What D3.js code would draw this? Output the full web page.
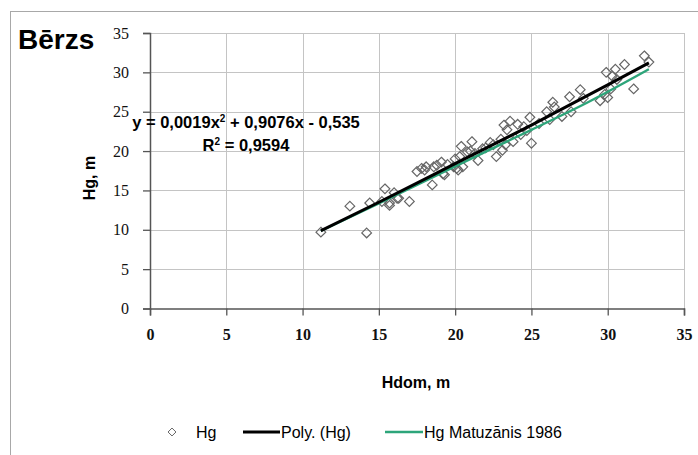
<!DOCTYPE html>
<html>
<head>
<meta charset="utf-8">
<script src="https://cdn.jsdelivr.net/npm/d3@7"></script>
<style>
  html, body { margin: 0; padding: 0; background: #fff; }
  svg { display: block; }
</style>
</head>
<body>
<svg id="chart" width="698" height="455"></svg>
<script>
// measured points (Hdom, Hg)
var hdom = [11.2, 13.1, 14.2, 14.4, 15.4, 15.2, 15.7, 16.0, 16.3, 17.0,
  17.5, 17.8, 18.1, 18.5, 18.6, 18.8, 19.1, 19.2, 19.9, 20.2,
  20.3, 20.4, 20.8, 21.1, 21.3, 21.5, 22.0, 22.3, 22.7, 23.1,
  23.2, 23.4, 23.3, 23.6, 23.8, 24.1, 24.5, 24.9, 25.0, 26.0,
  26.4, 26.5, 27.0, 27.5, 27.6, 28.2, 28.4, 29.5, 29.9, 30.0,
  30.3, 30.5, 30.6, 31.1, 31.7, 32.4, 32.7, 15.7, 16.2, 18.0,
  19.3, 20.1, 20.5, 19.5, 20.0, 21.8, 22.5, 24.3, 25.5, 26.2,
  29.8, 30.2, 21.0, 23.0, 24.7];
var hg = [9.7, 13.0, 9.6, 13.4, 15.2, 13.6, 13.4, 14.7, 14.0, 13.6,
  17.4, 17.8, 18.0, 15.7, 18.0, 18.2, 18.6, 17.1, 18.0, 17.6,
  19.3, 20.6, 19.9, 21.2, 19.7, 18.8, 20.4, 21.1, 19.3, 20.1,
  23.3, 22.7, 20.8, 23.8, 21.2, 23.4, 23.1, 24.3, 21.0, 25.0,
  26.2, 25.6, 24.4, 26.9, 25.0, 27.8, 26.7, 26.4, 30.0, 26.8,
  29.5, 30.4, 29.1, 31.0, 27.9, 32.1, 31.3, 13.1, 14.0, 17.6,
  17.0, 17.8, 18.0, 18.3, 19.0, 20.3, 20.8, 22.1, 23.5, 24.0,
  27.2, 27.9, 20.0, 21.5, 22.6];

// Poly. (Hg) trend line
var polyX = [11.2, 15, 20, 25, 30, 32.7];
var polyY = [9.87, 13.5, 18.4, 23.3, 28.4, 31.2];

// Hg Matuzānis 1986
var matX = [11.2, 15, 20, 23, 25, 28.8, 32.7];
var matY = [9.85, 13.35, 18.05, 20.85, 22.7, 26.3, 30.4];

var xTicks = [0, 5, 10, 15, 20, 25, 30, 35];
var yTicks = [0, 5, 10, 15, 20, 25, 30, 35];

var greenColor = "#2da57a";
var sans = "'Liberation Sans', Arial, sans-serif";

var svg = d3.select("#chart");

// chart frame
svg.append("rect")
  .attr("x", 10.5).attr("y", 11.5)
  .attr("width", 700).attr("height", 460)
  .attr("fill", "#fff")
  .attr("stroke", "#a8a8a8")
  .attr("stroke-width", 1);

var plotL = 150, plotR = 684, plotT = 33, plotB = 308.5;

var x = d3.scaleLinear().domain([0, 35]).range([plotL, plotR]);
var y = d3.scaleLinear().domain([0, 35]).range([plotB, plotT]);

// gridlines
svg.append("g").selectAll("line")
  .data(xTicks.slice(1))
  .enter().append("line")
    .attr("x1", d => Math.round(x(d)) + 0.5).attr("x2", d => Math.round(x(d)) + 0.5)
    .attr("y1", plotT).attr("y2", plotB)
    .attr("stroke", "#c4c4c4").attr("stroke-width", 1);
svg.append("g").selectAll("line")
  .data(yTicks.slice(1))
  .enter().append("line")
    .attr("x1", plotL).attr("x2", plotR)
    .attr("y1", d => Math.round(y(d)) + 0.5).attr("y2", d => Math.round(y(d)) + 0.5)
    .attr("stroke", "#c4c4c4").attr("stroke-width", 1);

// axes
var xAxis = svg.append("g")
  .attr("transform", "translate(0," + plotB + ")")
  .call(d3.axisBottom(x).tickValues(xTicks).tickSize(7).tickPadding(13));
var yAxis = svg.append("g")
  .attr("transform", "translate(" + plotL + ",0)")
  .call(d3.axisLeft(y).tickValues(yTicks).tickSize(7).tickPadding(14));
svg.selectAll(".domain").attr("stroke", "#555").attr("stroke-width", 1.5);
svg.selectAll(".tick line").attr("stroke", "#555").attr("stroke-width", 1.3);
svg.selectAll(".tick text")
  .style("font-family", "'Liberation Serif', 'DejaVu Serif', serif")
  .style("font-size", "16px")
  .style("fill", "#111");
xAxis.selectAll(".tick text").style("font-weight", "bold");

// data points
var pts = hdom.map((d, i) => ({ x: d, y: hg[i] }));
var diamond = d3.symbol().type(d3.symbolDiamond2).size(60);
svg.append("g").selectAll("path")
  .data(pts)
  .enter().append("path")
    .attr("d", diamond)
    .attr("transform", d => "translate(" + x(d.x) + "," + y(d.y) + ")")
    .attr("fill", "none")
    .attr("stroke", "#666")
    .attr("stroke-width", 1.2);

var line = d3.line()
  .x(d => x(d[0]))
  .y(d => y(d[1]))
  .curve(d3.curveMonotoneX);

svg.append("path")
  .datum(matX.map((d, i) => [d, matY[i]]))
  .attr("d", line)
  .attr("fill", "none")
  .attr("stroke", greenColor)
  .attr("stroke-width", 2.4);

svg.append("path")
  .datum(polyX.map((d, i) => [d, polyY[i]]))
  .attr("d", line)
  .attr("fill", "none")
  .attr("stroke", "#000")
  .attr("stroke-width", 3);

// texts
svg.append("text")
  .attr("x", 18).attr("y", 49)
  .style("font-family", sans)
  .style("font-size", "28px").style("font-weight", "bold")
  .text("Bērzs");

svg.append("text")
  .attr("x", 416).attr("y", 388)
  .attr("text-anchor", "middle")
  .style("font-family", sans)
  .style("font-size", "16px").style("font-weight", "bold")
  .text("Hdom, m");

svg.append("text")
  .attr("transform", "translate(95,178) rotate(-90)")
  .attr("text-anchor", "middle")
  .style("font-family", sans)
  .style("font-size", "16px").style("font-weight", "bold")
  .text("Hg, m");

var eq = svg.append("text")
  .attr("x", 246).attr("y", 128)
  .attr("text-anchor", "middle")
  .style("font-family", sans)
  .style("font-size", "16.5px").style("font-weight", "bold");
eq.append("tspan").text("y = 0,0019x");
eq.append("tspan").attr("dy", -6).style("font-size", "10px").text("2");
eq.append("tspan").attr("dy", 6).text(" + 0,9076x - 0,535");

var r2 = svg.append("text")
  .attr("x", 246).attr("y", 151)
  .attr("text-anchor", "middle")
  .style("font-family", sans)
  .style("font-size", "16.5px").style("font-weight", "bold");
r2.append("tspan").text("R");
r2.append("tspan").attr("dy", -6).style("font-size", "10px").text("2");
r2.append("tspan").attr("dy", 6).text(" = 0,9594");

// legend
var legend = svg.append("g")
  .style("font-family", sans)
  .style("font-size", "16px");
legend.append("path")
  .attr("d", d3.symbol().type(d3.symbolDiamond2).size(40))
  .attr("transform", "translate(172,432)")
  .attr("fill", "none").attr("stroke", "#666");
legend.append("text").attr("x", 196).attr("y", 438).text("Hg");
legend.append("line")
  .attr("x1", 243).attr("x2", 280).attr("y1", 432).attr("y2", 432)
  .attr("stroke", "#000").attr("stroke-width", 3);
legend.append("text").attr("x", 281).attr("y", 438).text("Poly. (Hg)");
legend.append("line")
  .attr("x1", 385).attr("x2", 423).attr("y1", 432).attr("y2", 432)
  .attr("stroke", greenColor).attr("stroke-width", 2.5);
legend.append("text").attr("x", 424).attr("y", 438).text("Hg Matuzānis 1986");
</script>
</body>
</html>
